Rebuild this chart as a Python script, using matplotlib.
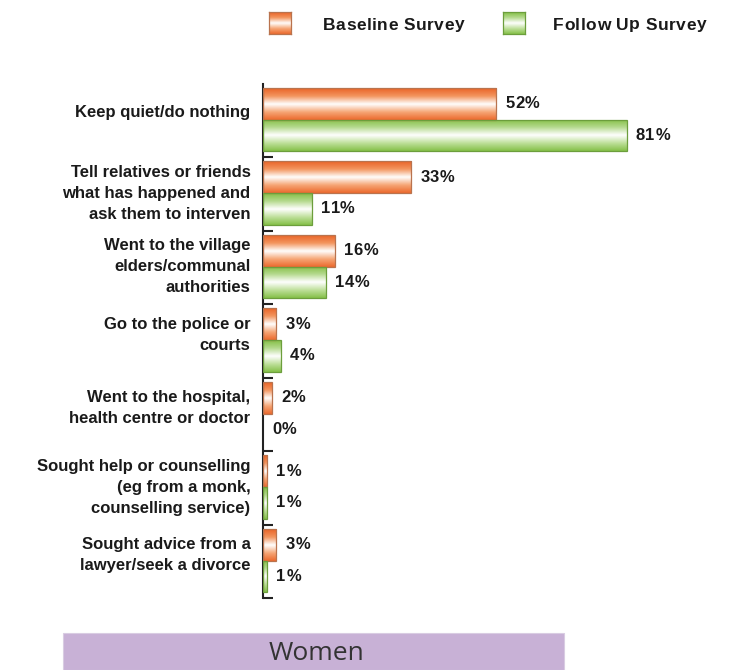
import matplotlib
matplotlib.use("Agg")
import matplotlib.pyplot as plt
import numpy as np
from matplotlib.colors import LinearSegmentedColormap
from matplotlib.patches import Rectangle
from matplotlib.transforms import offset_copy

categories = [
    "Keep quiet/do nothing",
    "Tell relatives or friends\nwhat has happened and\nask them to interven",
    "Went to the village\nelders/communal\nauthorities",
    "Go to the police or\ncourts",
    "Went to the hospital,\nhealth centre or doctor",
    "Sought help or counselling\n(eg from a monk,\ncounselling service)",
    "Sought advice from a\nlawyer/seek a divorce",
]
baseline = [52, 33, 16, 3, 2, 1, 3]
follow_up = [81, 11, 14, 4, 0, 1, 1]
series_names = ["Baseline Survey", "Follow Up Survey"]
panel_title = "Women"

W, H = 729, 670
fig = plt.figure(figsize=(W / 100, H / 100), dpi=100)
renderer = fig.canvas.get_renderer()
bold_face = "Liberation Sans"


def px(x0, y0, x1, y1):
    return [x0 / W, 1 - y1 / H, (x1 - x0) / W, (y1 - y0) / H]


def text_width(s, **kw):
    t = fig.text(0, 0, s + "|", **kw)
    w = t.get_window_extent(renderer).width
    t.remove()
    t = fig.text(0, 0, "|", **kw)
    w -= t.get_window_extent(renderer).width
    t.remove()
    return w


def tracked_text(x, y, s, transform, tracking, **kw):
    """Draw a string character by character with extra letter spacing (pixels)."""
    for k, ch in enumerate(s):
        dx = text_width(s[:k], **kw) + k * tracking if k else 0.0
        tr = offset_copy(transform, fig=fig, x=dx, y=0, units="dots")
        fig.text(x, y, ch, transform=tr, ha="left", **kw)


ax = fig.add_axes(px(263, 83.5, 712, 598))

orange_cmap = LinearSegmentedColormap.from_list(
    "org", ["#EA6428", "#F3965F", "#FFFFFF", "#F6A777", "#EC6A2E"])
green_cmap = LinearSegmentedColormap.from_list(
    "grn", ["#84BF46", "#B5DA8E", "#FFFFFF", "#BFE09C", "#86C14A"])

grad = np.linspace(0, 1, 64).reshape(-1, 1)

n = len(categories)
bar_h = 0.43
off_orange = 0.06
off_green = off_orange + bar_h

ax.set_xlim(0, 100)
ax.set_ylim(n, 0)


def draw_bar(y_top, value, cmap, edge):
    if value <= 0:
        return
    bars = ax.barh(y_top, value, height=bar_h, align="edge", left=0,
                   facecolor="none", edgecolor=edge, linewidth=0.9, zorder=3)
    patch = bars.patches[0]
    im = ax.imshow(grad, extent=[0, value, y_top + bar_h, y_top], cmap=cmap,
                   aspect="auto", interpolation="bicubic", zorder=2)
    im.set_clip_path(patch)


value_style = dict(va="center", fontsize=12, fontweight="bold",
                   family=bold_face, color="#1a1a1a")

for i in range(n):
    draw_bar(i + off_orange, baseline[i], orange_cmap, "#B9734E")
    draw_bar(i + off_green, follow_up[i], green_cmap, "#6C9E3C")

ax.set_xlim(0, 100)
ax.set_ylim(n, 0)

for i in range(n):
    for val, off in ((baseline[i], off_orange), (follow_up[i], off_green)):
        base = offset_copy(ax.transData, fig=fig, x=9, y=0, units="dots")
        tracked_text(val, i + off + bar_h / 2, f"{val}%", base, 0.5, **value_style)

for s in ["top", "right", "bottom"]:
    ax.spines[s].set_visible(False)
ax.spines["left"].set_linewidth(1.5)
ax.spines["left"].set_color("#222222")
ax.set_xticks([])
ax.set_yticks(np.arange(1, n + 1))
ax.set_yticklabels([])
ax.tick_params(axis="y", which="major", direction="in", length=7, width=1.5,
               color="#222222")

# category labels: longer labels sit near the centre, shorter ones a little higher
def label_offset(text):
    lines = text.count("\n") + 1
    return {1: 0.37, 2: 0.355}.get(lines, 0.435)


label_pos = [i + label_offset(c) for i, c in enumerate(categories)]
ax.set_yticks(label_pos, minor=True)
ax.set_yticklabels(categories, minor=True, fontsize=12, fontweight="bold",
                   family=bold_face, color="#1a1a1a", linespacing=1.5)
ax.tick_params(axis="y", which="minor", length=0, pad=9)
for lbl in ax.get_yticklabels(minor=True):
    lbl.set_horizontalalignment("right")

# legend
legend_style = dict(va="center", fontsize=12.5, fontweight="bold",
                    family=bold_face, color="#1a1a1a")
legend_items = [
    (series_names[0], orange_cmap, "#B9734E", 269, 323),
    (series_names[1], green_cmap, "#6C9E3C", 503, 553),
]
for name, cmap, edge, xp, xt in legend_items:
    lax = fig.add_axes(px(xp, 12, xp + 22, 34))
    lax.imshow(grad, cmap=cmap, aspect="auto", interpolation="bicubic")
    lax.set_xticks([]); lax.set_yticks([])
    for s in lax.spines.values():
        s.set_color(edge); s.set_linewidth(0.9)
    tracked_text(xt / W, 1 - 25 / H, name, fig.transFigure, 0.5, **legend_style)

# panel caption
fig.patches.append(Rectangle((63 / W, 0), (564 - 63) / W, (H - 633) / H,
                             transform=fig.transFigure, facecolor="#C8B1D6",
                             edgecolor="#D9CCE2", linewidth=0.8))
fig.text(316 / W, 1 - 654 / H, panel_title, ha="center", va="center",
         fontsize=19, family="Open Sans", color="#333333")

fig.savefig("out.png", dpi=100)
